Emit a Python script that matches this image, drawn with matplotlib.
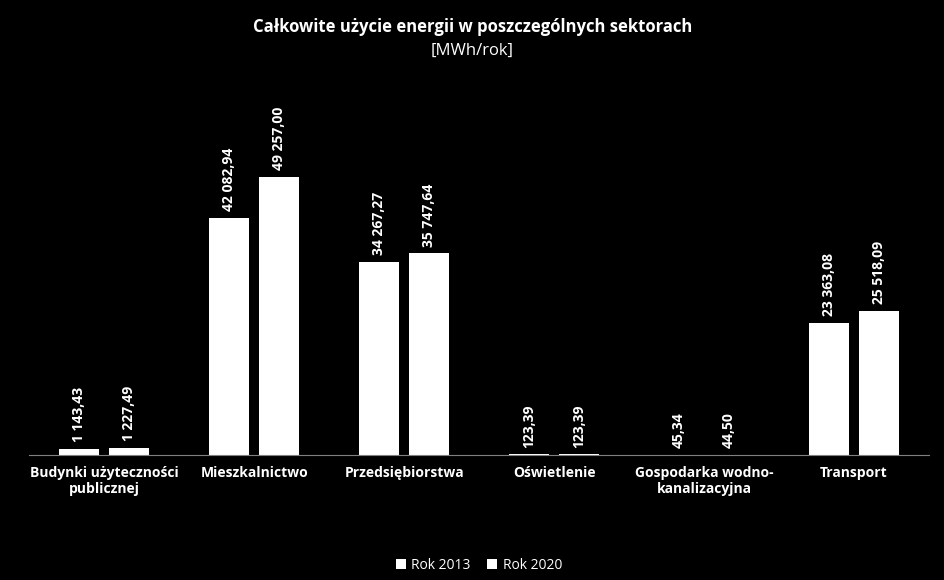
import matplotlib.pyplot as plt
import numpy as np

categories = ["Budynki użyteczności\npublicznej", "Mieszkalnictwo", "Przedsiębiorstwa",
              "Oświetlenie", "Gospodarka wodno-\nkanalizacyjna", "Transport"]
rok_2013 = [1143.43, 42082.94, 34267.27, 123.39, 45.34, 23363.08]
rok_2020 = [1227.49, 49257.00, 35747.64, 123.39, 44.50, 25518.09]


def fmt(v):
    s = f"{v:,.2f}"
    return s.replace(",", " ").replace(".", ",")


plt.rcParams["font.family"] = "Open Sans"
fig = plt.figure(figsize=(9.45, 5.8), dpi=100, facecolor="black")
ax = fig.add_axes([0.031, 0.2155, 0.952, 0.681], facecolor="black")

x = np.arange(len(categories))
w = 0.267
b1 = ax.bar(x - 0.167, rok_2013, w, color="white", label="Rok 2013")
b2 = ax.bar(x + 0.167, rok_2020, w, color="white", label="Rok 2020")

for bars, vals in ((b1, rok_2013), (b2, rok_2020)):
    for r, v in zip(bars, vals):
        ax.text(r.get_x() + r.get_width() / 2, v + 1200, fmt(v), rotation=90,
                ha="center", va="bottom", color="white", fontsize=10, fontweight="bold")

ax.set_xlim(-0.5, len(categories) - 0.5)
ax.set_ylim(0, 70000)
ax.set_yticks([])
ax.set_xticks(x)
ax.set_xticklabels(categories, color="white", fontsize=10, fontweight="bold")
ax.tick_params(axis="x", length=0, pad=8)
for s in ("top", "right", "left"):
    ax.spines[s].set_visible(False)
ax.spines["bottom"].set_color("#808080")

fig.text(0.5, 0.945, "Całkowite użycie energii w poszczególnych sektorach", ha="center",
         color="white", fontsize=12, fontweight="bold")
fig.text(0.5, 0.905, "[MWh/rok]", ha="center", color="white", fontsize=12)

leg = ax.legend(loc="lower center", bbox_to_anchor=(0.5, -0.33), ncol=2, frameon=False,
                fontsize=10, handlelength=0.7, handleheight=0.7, columnspacing=1.2,
                handletextpad=0.4)
for t in leg.get_texts():
    t.set_color("white")

fig.savefig("out.png", facecolor="black")
